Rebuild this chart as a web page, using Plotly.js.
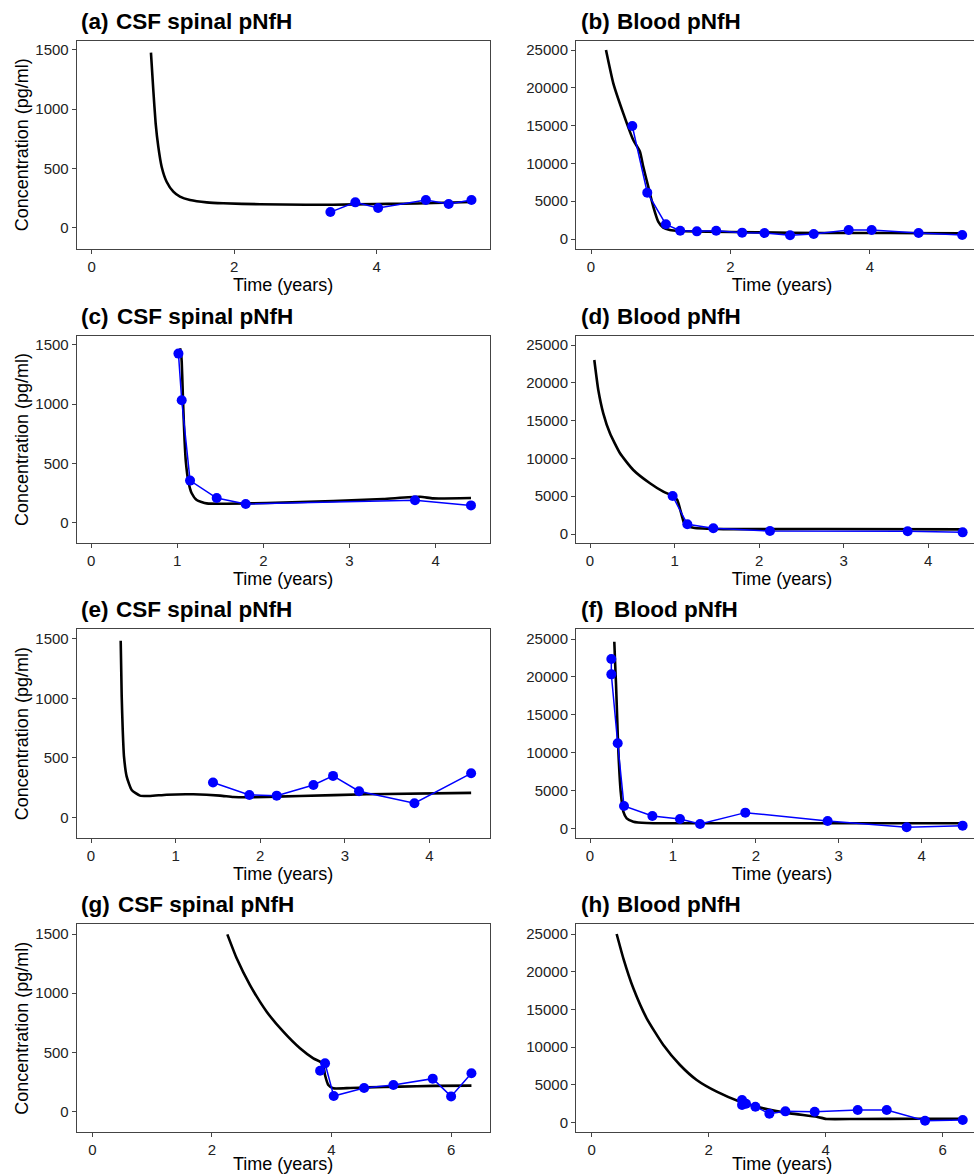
<!DOCTYPE html>
<html><head><meta charset="utf-8">
<script src="https://cdn.plot.ly/plotly-3.0.1.min.js"></script>
<style>html,body{margin:0;padding:0;background:#fff;overflow:hidden;}#chart{width:990px;height:1190px;}</style>
</head><body><div id="chart"></div>
<script>
// ---------- data ----------
const panelTags   = ["(a)","(b)","(c)","(d)","(e)","(f)","(g)","(h)"];
const panelTitles = ["CSF spinal pNfH","Blood pNfH","CSF spinal pNfH","Blood pNfH","CSF spinal pNfH","Blood pNfH","CSF spinal pNfH","Blood pNfH"];
const xAxisTitle = "Time (years)";
const yAxisTitle = "Concentration (pg/ml)";
const csfTicks   = [0,500,1000,1500];
const bloodTicks = [0,5000,10000,15000,20000,25000];
const xTicksA = [0,2,4];
const xTicksC = [0,1,2,3,4];
const xTicksG = [0,2,4,6];

// (a) CSF
const aFitX = [0.832,0.865,0.898,0.935,0.982,1.052,1.146,1.239,1.38,1.614,1.847,2.362,3.0,3.39,4.0,4.33,4.8,5.33];
const aFitY = [1477,1162,881,684,515,388,304,262,234,214,206,198,194,194,200,202,208,217];
const aObsX = [3.35,3.70,4.02,4.69,5.01,5.33];
const aObsY = [132,214,166,234,200,234];
// (b) Blood
const bFitX = [0.215,0.32,0.463,0.606,0.702,0.749,0.821,0.893,0.964,1.036,1.131,1.274,1.656,2.372,3.327,4.28,5.32];
const bFitY = [25000,20590,16622,13095,11550,9568,6922,4277,2293,1500,1190,1058,970,882,794,794,750];
const bObsX = [0.592,0.807,1.074,1.279,1.518,1.795,2.167,2.487,2.854,3.193,3.695,4.024,4.697,5.322];
const bObsY = [14950,6130,1940,1100,1010,1100,840,790,490,660,1190,1190,790,530];
// (c) CSF
const cFitX = [1.033,1.045,1.052,1.062,1.072,1.085,1.10,1.13,1.168,1.226,1.342,1.574,2.04,2.81,3.39,3.82,3.97,4.41];
const cFitY = [1472,1420,1359,1150,937,700,515,346,248,191,163,160,166,183,200,219,205,208];
const cObsX = [1.014,1.052,1.149,1.458,1.795,3.76,4.41];
const cObsY = [1427,1033,355,208,158,189,146];
// (d) Blood
const dFitX = [0.051,0.098,0.157,0.236,0.355,0.512,0.709,0.867,0.985,1.032,1.084,1.123,1.222,1.576,2.76,4.406];
const dFitY = [23016,19048,15966,13320,10675,8466,6706,5595,5026,4497,2513,1190,833,650,661,617];
const dObsX = [0.977,1.151,1.458,2.128,3.756,4.406];
const dObsY = [5026,1279,750,397,353,220];
// (e) CSF
const eFitX = [0.351,0.363,0.375,0.39,0.422,0.481,0.579,0.698,0.895,1.21,1.525,1.683,1.9,2.47,3.26,4.493];
const eFitY = [1486,1015,734,510,342,230,182,179,190,193,182,170,168,179,193,205];
const eObsX = [1.442,1.872,2.195,2.629,2.861,3.168,3.823,4.493];
const eObsY = [292,188,182,272,348,219,118,370];
// (f) Blood
const fFitX = [0.293,0.304,0.314,0.328,0.342,0.37,0.402,0.442,0.523,0.683,1.206,2.814,4.494];
const fFitY = [24646,21500,18924,14500,10122,4841,2200,1320,880,704,660,660,660];
const fObsX = [0.257,0.257,0.334,0.41,0.752,1.085,1.327,1.873,2.866,3.819,4.494];
const fObsY = [22357,20333,11223,2949,1628,1232,572,2068,968,132,352];
// (g) CSF
const gFitX = [2.258,2.414,2.637,2.916,3.194,3.473,3.696,3.853,3.891,3.947,4.03,4.31,4.59,5.147,5.704,6.34];
const gFitY = [1497,1295,1069,844,675,535,450,408,310,225,197,200,205,212,218,220];
const gObsX = [3.809,3.892,4.037,4.545,5.035,5.693,6.0,6.34];
const gObsY = [346,408,132,200,225,279,129,324];
// (h) Blood
const hFitX = [0.427,0.541,0.712,0.94,1.225,1.51,1.795,2.137,2.536,2.934,3.39,3.846,3.96,4.017,4.53,5.67,6.342];
const hFitY = [25000,21776,17800,13825,10292,7641,5654,4108,2783,1899,1237,795,574,486,486,530,530];
const hObsX = [2.57,2.57,2.638,2.798,3.037,3.311,3.812,4.547,5.043,5.698,6.342];
const hObsY = [3004,2341,2518,2120,1193,1502,1458,1678,1678,265,353];

const fits = [[aFitX,aFitY],[bFitX,bFitY],[cFitX,cFitY],[dFitX,dFitY],[eFitX,eFitY],[fFitX,fFitY],[gFitX,gFitY],[hFitX,hFitY]];
const obs  = [[aObsX,aObsY],[bObsX,bObsY],[cObsX,cObsY],[dObsX,dObsY],[eObsX,eObsY],[fObsX,fObsY],[gObsX,gObsY],[hObsX,hObsY]];
const xTickSets = [xTicksA,xTicksA,xTicksC,xTicksC,xTicksC,xTicksC,xTicksG,xTicksG];

// ---------- layout geometry (pixels) ----------
const W = 990, H = 1190, VISIBLE_H = 1175;
const colBox = [[76.7,489.5],[576,988]];
const rowBox = [[40.7,248.7],[335.7,543.3],[629,838.3],[924.3,1132.3]];
const xRanges = [[-0.21,5.583],[-0.215,5.692],[-0.167,4.625],[-0.1655,4.706],[-0.169,4.71],[-0.169,4.80],[-0.261,6.642],[-0.268,6.774]];
const yRanges = [[-177,1578],[-1283,26230],[-174,1578],[-1230,26230],[-177,1584],[-1321,26321],[-174,1582],[-1272,26285]];
const tagX   = [79,579,79,579,79,579,79,579];
const titleX = [114.3,615,115,615,113.7,612,116,615];

const FAM = 'Liberation Sans, Arial, sans-serif';
const traces = [];
const layout = {
  width: W, height: H, margin:{l:0,r:0,t:0,b:0},
  paper_bgcolor:'#fff', plot_bgcolor:'#fff', showlegend:false,
  font:{family:FAM, color:'#000'},
  annotations:[]
};
const tickFont = {family:FAM, size:15, color:'#222'};
const titleFont = {family:FAM, size:18, color:'#000'};

for (let i=0;i<8;i++){
  const col = i%2, row = Math.floor(i/2);
  const sfx = i===0 ? '' : String(i+1);
  const xa = 'x'+sfx, ya = 'y'+sfx;
  const cb = colBox[col], rb = rowBox[row];
  const isCSF = col===0;
  const lastRow = row===3;
  layout['xaxis'+sfx] = {
    domain:[cb[0]/W, cb[1]/W], anchor: ya, range:xRanges[i],
    tickmode:'array', tickvals:xTickSets[i], tickformat:'d',
    showline:true, mirror:true, linecolor:'#444', linewidth:1,
    ticks:'outside', ticklen:4, tickcolor:'#444', tickfont:tickFont,
    showgrid:false, zeroline:false,
    title: lastRow ? {text:''} : {text:xAxisTitle, font:titleFont, standoff:4}
  };
  if (lastRow) {
    // bottom-row axis title placed just above the window's lower edge
    layout.annotations.push({xref:'paper', yref:'paper', x:(cb[0]+cb[1])/2/W, y:1-VISIBLE_H/H,
      xanchor:'center', yanchor:'bottom', borderpad:0, showarrow:false,
      text:xAxisTitle, font:titleFont});
  }
  layout['yaxis'+sfx] = {
    domain:[1-rb[1]/H, 1-rb[0]/H], anchor: xa, range:yRanges[i],
    tickmode:'array', tickvals: isCSF ? csfTicks : bloodTicks, tickformat:'d',
    showline:true, mirror:true, linecolor:'#444', linewidth:1,
    ticks:'outside', ticklen:4, tickcolor:'#444', tickfont:tickFont,
    showgrid:false, zeroline:false,
    title: isCSF ? {text:yAxisTitle, font:titleFont, standoff:2} : {text:''}
  };
  traces.push({x:fits[i][0], y:fits[i][1], xaxis:xa, yaxis:ya, type:'scatter', mode:'lines',
    line:{color:'#000', width:2.6, shape:'spline', smoothing:0.5}, hoverinfo:'skip'});
  traces.push({x:obs[i][0], y:obs[i][1], xaxis:xa, yaxis:ya, type:'scatter', mode:'lines+markers',
    line:{color:'#0000ff', width:1.5}, marker:{color:'#0000ff', size:10}});
  const ty = 1 - (rb[0]-19.5)/H;
  layout.annotations.push({xref:'paper', yref:'paper', x:tagX[i]/W, y:ty, xanchor:'left', yanchor:'middle',
    text:'<b>'+panelTags[i]+'</b>', showarrow:false, font:{family:FAM, size:22.5, color:'#000'}});
  layout.annotations.push({xref:'paper', yref:'paper', x:titleX[i]/W, y:ty, xanchor:'left', yanchor:'middle',
    text:'<b>'+panelTitles[i]+'</b>', showarrow:false, font:{family:FAM, size:22.5, color:'#000'}});
}

Plotly.newPlot('chart', traces, layout, {staticPlot:true, displayModeBar:false});
</script>
</body></html>
